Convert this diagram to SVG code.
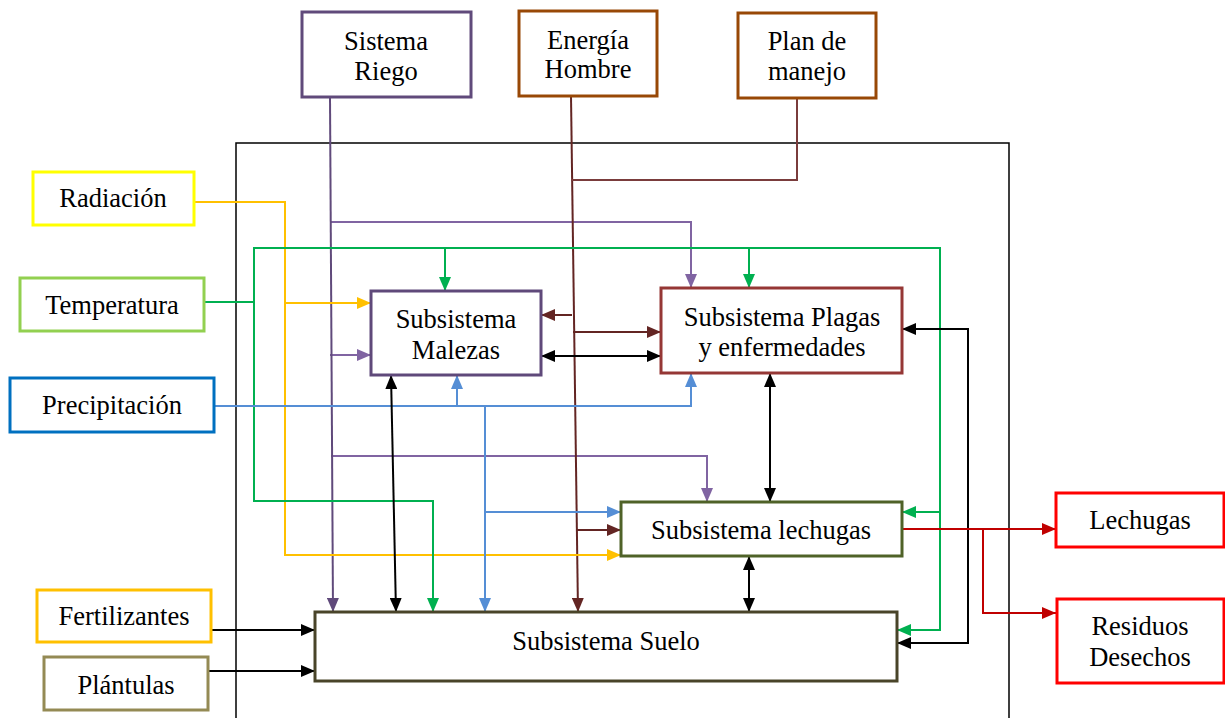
<svg xmlns="http://www.w3.org/2000/svg" width="1225" height="718" viewBox="0 0 1225 718">
<style>
text{font-family:"Liberation Serif","Times New Roman",serif;font-size:26.5px;fill:#000;text-anchor:middle}
.box{fill:#fff;stroke-width:3}
.c{fill:none;stroke-width:2}
</style>
<defs>
<marker id="aK" markerUnits="userSpaceOnUse" markerWidth="14" markerHeight="12" refX="14" refY="6" orient="auto-start-reverse"><path d="M0,0 L14,6 L0,12 z" fill="#000"/></marker>
<marker id="aP" markerUnits="userSpaceOnUse" markerWidth="14" markerHeight="12" refX="14" refY="6" orient="auto"><path d="M0,0 L14,6 L0,12 z" fill="#8064A2"/></marker>
<marker id="aPd" markerUnits="userSpaceOnUse" markerWidth="14" markerHeight="12" refX="14" refY="6" orient="auto"><path d="M0,0 L14,6 L0,12 z" fill="#604A7B"/></marker>
<marker id="aB" markerUnits="userSpaceOnUse" markerWidth="14" markerHeight="12" refX="14" refY="6" orient="auto"><path d="M0,0 L14,6 L0,12 z" fill="#632523"/></marker>
<marker id="aY" markerUnits="userSpaceOnUse" markerWidth="14" markerHeight="12" refX="14" refY="6" orient="auto"><path d="M0,0 L14,6 L0,12 z" fill="#FFC000"/></marker>
<marker id="aG" markerUnits="userSpaceOnUse" markerWidth="14" markerHeight="12" refX="14" refY="6" orient="auto"><path d="M0,0 L14,6 L0,12 z" fill="#00B050"/></marker>
<marker id="aL" markerUnits="userSpaceOnUse" markerWidth="14" markerHeight="12" refX="14" refY="6" orient="auto"><path d="M0,0 L14,6 L0,12 z" fill="#558ED5"/></marker>
<marker id="aR" markerUnits="userSpaceOnUse" markerWidth="14" markerHeight="12" refX="14" refY="6" orient="auto"><path d="M0,0 L14,6 L0,12 z" fill="#C00000"/></marker>
</defs>
<rect width="1225" height="718" fill="#fff"/>
<path id="system-boundary" d="M236,720 V143 H1009 V720" fill="none" stroke="#000" stroke-width="1.5"/>
<g id="connectors">
<g stroke="#8064A2" class="c">
<path class="c" d="M330,222 H691 V288" marker-end="url(#aP)"/>
<path class="c" d="M330,355 H371" marker-end="url(#aP)"/>
<path class="c" d="M331,456 H707 V502" marker-end="url(#aP)"/>
</g>
<path class="c" stroke="#604A7B" d="M330,97 L333,612" marker-end="url(#aPd)"/>
<g stroke="#632523">
<path class="c" d="M571,96 L578,612" marker-end="url(#aB)"/>
<path class="c" d="M572,315 H541" marker-end="url(#aB)"/>
<path class="c" d="M573,332 H661" marker-end="url(#aB)"/>
<path class="c" d="M577,530 H621" marker-end="url(#aB)"/>
</g>
<path class="c" stroke="#7A3C3C" d="M797,98 V180 H571"/>
<g stroke="#FFC000">
<path class="c" d="M194,202 H285 V555 H621" marker-end="url(#aY)"/>
<path class="c" d="M285,303 H371" marker-end="url(#aY)"/>
</g>
<g stroke="#00B050">
<path class="c" d="M204,302 H254 V248 H940 V630 H897" marker-end="url(#aG)"/>
<path class="c" d="M940,512 H902" marker-end="url(#aG)"/>
<path class="c" d="M254,302 V501 H433 V612" marker-end="url(#aG)"/>
<path class="c" d="M445,248 V291" marker-end="url(#aG)"/>
<path class="c" d="M749,248 V288" marker-end="url(#aG)"/>
</g>
<g stroke="#558ED5">
<path class="c" d="M214,406 H691 V373" marker-end="url(#aL)"/>
<path class="c" d="M457,406 V375" marker-end="url(#aL)"/>
<path class="c" d="M485,406 V612" marker-end="url(#aL)"/>
<path class="c" d="M485,512 H621" marker-end="url(#aL)"/>
</g>
<g stroke="#000">
<path class="c" d="M391,375 L396,612" marker-start="url(#aK)" marker-end="url(#aK)"/>
<path class="c" d="M541,356 H661" marker-start="url(#aK)" marker-end="url(#aK)"/>
<path class="c" d="M770,373 V502" marker-start="url(#aK)" marker-end="url(#aK)"/>
<path class="c" d="M749,556 V612" marker-start="url(#aK)" marker-end="url(#aK)"/>
<path class="c" d="M902,329 H968 V643 H897" marker-start="url(#aK)" marker-end="url(#aK)"/>
<path class="c" d="M211,630 H315" marker-end="url(#aK)"/>
<path class="c" d="M208,671 H315" marker-end="url(#aK)"/>
</g>
<g stroke="#C00000">
<path class="c" d="M902,529 H1056" marker-end="url(#aR)"/>
<path class="c" d="M983,529 V613 H1056" marker-end="url(#aR)"/>
</g>
</g>
<g id="sistema-riego"><rect class="box" x="302" y="12" width="169" height="85" stroke="#604A7B"/><text x="386" y="50">Sistema</text><text x="386" y="80">Riego</text></g>
<g id="energia-hombre"><rect class="box" x="519" y="11" width="138" height="85" stroke="#984806"/><text x="588" y="49">Energía</text><text x="588" y="78">Hombre</text></g>
<g id="plan-manejo"><rect class="box" x="738" y="13" width="138" height="85" stroke="#984806"/><text x="807" y="50">Plan de</text><text x="807" y="80">manejo</text></g>
<g id="radiacion"><rect class="box" x="33" y="172" width="161" height="53" stroke="#FFFF00"/><text x="113" y="207">Radiación</text></g>
<g id="temperatura"><rect class="box" x="20" y="278" width="184" height="53" stroke="#92D050"/><text x="112" y="314">Temperatura</text></g>
<g id="precipitacion"><rect class="box" x="10" y="378" width="204" height="54" stroke="#0070C0"/><text x="112" y="414">Precipitación</text></g>
<g id="fertilizantes"><rect class="box" x="37" y="590" width="174" height="52" stroke="#FFC000"/><text x="124" y="625">Fertilizantes</text></g>
<g id="plantulas"><rect class="box" x="44" y="657" width="164" height="53" stroke="#948A54"/><text x="126" y="694">Plántulas</text></g>
<g id="malezas"><rect class="box" x="371" y="291" width="170" height="84" stroke="#5F497A"/><text x="456" y="328">Subsistema</text><text x="456" y="359">Malezas</text></g>
<g id="plagas"><rect class="box" x="661" y="288" width="241" height="85" stroke="#953735"/><text x="782" y="326">Subsistema Plagas</text><text x="782" y="356">y enfermedades</text></g>
<g id="lechugas-sub"><rect class="box" x="621" y="502" width="281" height="54" stroke="#4F6228"/><text x="761" y="539">Subsistema lechugas</text></g>
<g id="suelo"><rect class="box" x="315" y="612" width="582" height="69" stroke="#494429"/><text x="606" y="650">Subsistema Suelo</text></g>
<g id="lechugas-out"><rect class="box" x="1056" y="493" width="168" height="54" stroke="#FF0000"/><text x="1140" y="529">Lechugas</text></g>
<g id="residuos"><rect class="box" x="1057" y="599" width="167" height="84" stroke="#FF0000"/><text x="1140" y="635">Residuos</text><text x="1140" y="666">Desechos</text></g>
</svg>
